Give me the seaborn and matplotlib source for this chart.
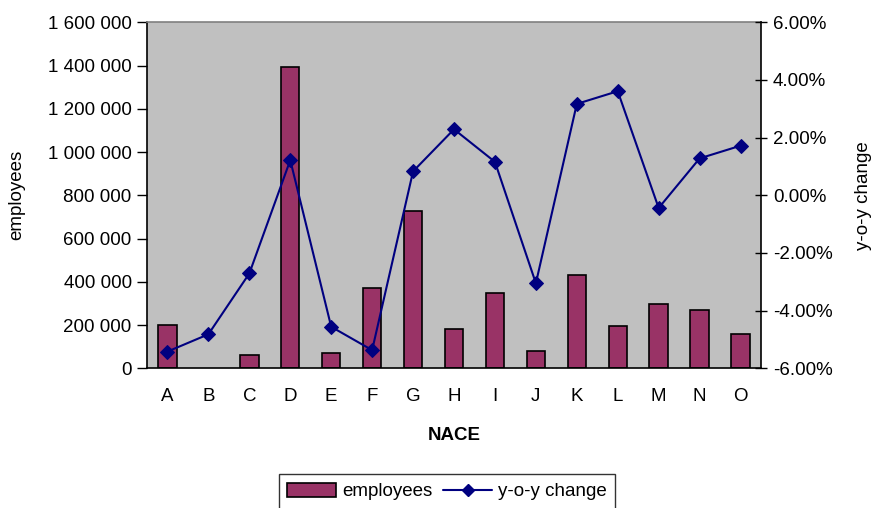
import numpy as np
import pandas as pd
import matplotlib
matplotlib.use("Agg")
import matplotlib.pyplot as plt
from matplotlib.ticker import FuncFormatter, FixedLocator
from matplotlib.patches import Patch
from matplotlib.lines import Line2D
import seaborn as sns

# NACE sections
nace = ["A", "B", "C", "D", "E", "F", "G", "H", "I", "J", "K", "L", "M", "N", "O"]
# number of employees per section
employees = [200000, 0, 61000, 1392000, 69000, 372000, 727000, 180000,
             350000, 81000, 430000, 194000, 297000, 268000, 157000]
# year-over-year change, in percent
yoy_change = [-5.42, -4.82, -2.71, 1.22, -4.56, -5.37, 0.83, 2.29,
              1.16, -3.05, 3.17, 3.61, -0.44, 1.28, 1.72]

df = pd.DataFrame({"nace": nace, "employees": employees, "yoy": yoy_change})

FS = 13.5

sns.set_theme(style="white")
plt.rcParams["font.family"] = ["Liberation Sans", "DejaVu Sans"]
plt.rcParams["font.size"] = FS
for key in ["text.color", "axes.labelcolor", "xtick.color", "ytick.color"]:
    plt.rcParams[key] = "black"

fig = plt.figure(figsize=(8.74, 5.08), dpi=100)
ax = fig.add_axes([147 / 874, 1 - 368.3 / 508, (761 - 147) / 874, 346 / 508])
ax.set_facecolor("#C0C0C0")

bar_color = "#993366"
line_color = "#000080"

sns.barplot(data=df, x="nace", y="employees", ax=ax, color=bar_color,
            saturation=1, width=0.45, edgecolor="black", linewidth=1.2)
# empty sections get no bar outline
for p in ax.patches:
    if p.get_height() == 0:
        p.set_visible(False)

ax.set_ylim(0, 1600000)
ax.set_xlim(-0.5, len(nace) - 0.5)
ax.yaxis.set_major_locator(FixedLocator(np.arange(0, 1600001, 200000)))
ax.yaxis.set_major_formatter(FuncFormatter(lambda v, _: f"{int(round(v)):,}".replace(",", " ")))
ax.set_ylabel("employees", fontsize=FS, color="black")
ax.yaxis.set_label_coords((25 - 147) / 614, 0.5)
ax.set_xlabel("NACE", fontsize=FS, fontweight="bold", labelpad=16, color="black")

# category labels centred, tick marks between categories
ax.set_xticks(range(len(nace)))
ax.set_xticklabels(nace)
ax.tick_params(axis="x", which="major", length=0, pad=14, labelsize=FS, labelcolor="black")
ax.set_xticks(np.arange(-0.5, len(nace), 1.0), minor=True)
ax.tick_params(axis="x", which="minor", direction="out", length=7, width=1, color="black")
ax.tick_params(axis="y", which="major", direction="out", length=7, width=1,
               color="black", left=True, labelsize=FS, pad=4, labelcolor="black")

for side in ["left", "bottom"]:
    ax.spines[side].set_color("black")
    ax.spines[side].set_linewidth(1.2)
ax.spines["top"].set_color("#808080")
ax.spines["top"].set_linewidth(1.2)
ax.spines["right"].set_visible(False)

ax2 = ax.twinx()
sns.lineplot(x=np.arange(len(nace)), y=df["yoy"], ax=ax2, color=line_color,
             marker="D", markersize=7, markeredgecolor=line_color, linewidth=1.5)
ax2.set_ylim(-6, 6)
ax2.set_xlim(-0.5, len(nace) - 0.5)
ax2.yaxis.set_major_locator(FixedLocator(np.arange(-6, 6.01, 2)))
ax2.yaxis.set_major_formatter(FuncFormatter(lambda v, _: f"{v:.2f}%"))
ax2.set_ylabel("y-o-y change", fontsize=FS, rotation=90, color="black")
ax2.yaxis.set_label_coords((855 - 147) / 614, 0.5)
ax2.tick_params(axis="y", which="major", direction="inout", length=9, width=1,
                color="black", right=True, labelsize=FS, pad=4, labelcolor="black")
for side in ["left", "bottom", "top"]:
    ax2.spines[side].set_visible(False)
ax2.spines["right"].set_color("black")
ax2.spines["right"].set_linewidth(1.2)

handles = [Patch(facecolor=bar_color, edgecolor="black", linewidth=1.2),
           Line2D([0], [0], color=line_color, marker="D", markersize=6, linewidth=1.5)]
leg = fig.legend(handles, ["employees", "y-o-y change"], loc="center",
                 bbox_to_anchor=(447 / 874, 1 - 491.5 / 508), ncol=2,
                 frameon=True, fancybox=False, fontsize=FS, handlelength=2.6,
                 handleheight=0.8, columnspacing=0.6, handletextpad=0.3,
                 borderpad=0.45, labelcolor="black")
leg.get_frame().set_edgecolor("black")
leg.get_frame().set_linewidth(1)

fig.savefig("out.png", dpi=100)
